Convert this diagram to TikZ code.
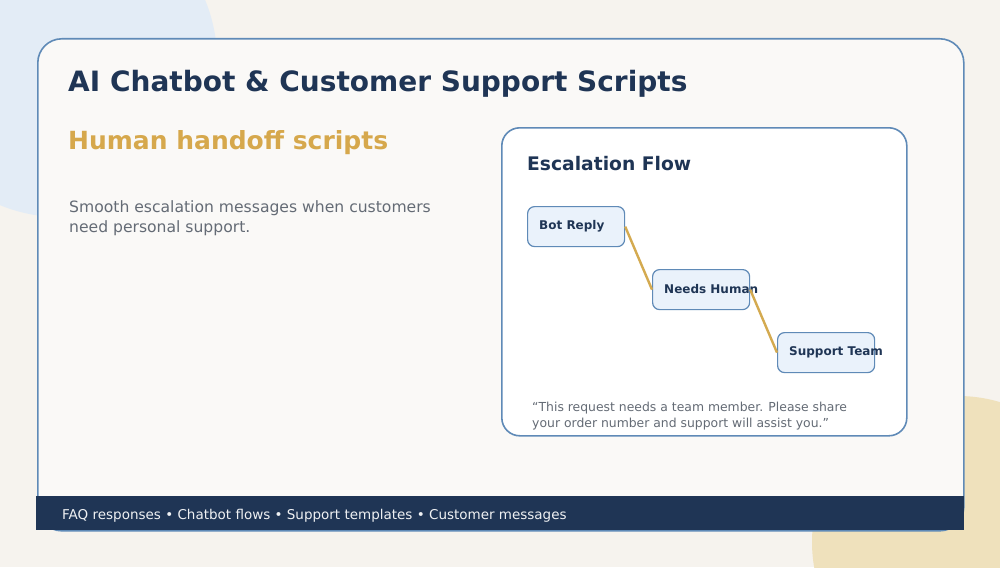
\documentclass[tikz,border=0pt]{standalone}
\usepackage{fontspec}
\setmainfont{DejaVu Sans}
\definecolor{bgc}{HTML}{F6F3EE}
\definecolor{blobblue}{HTML}{E3ECF6}
\definecolor{blobtan}{HTML}{EFE1BC}
\definecolor{navy}{HTML}{1F3555}
\definecolor{cardborder}{HTML}{5F8AB7}
\definecolor{cardfill}{HTML}{FAF9F7}
\definecolor{gold}{HTML}{D6A84C}
\definecolor{bodygray}{HTML}{646B75}
\definecolor{boxfill}{HTML}{EAF2FB}
\definecolor{linegold}{HTML}{D4AA50}
\tikzset{
  flowbox/.style={draw=cardborder, line width=1.2pt, fill=boxfill, rounded corners=7pt,
    minimum width=97pt, minimum height=40pt, inner sep=0pt},
  flowtext/.style={anchor=west, inner sep=0pt, text=navy, font=\fontsize{12}{14}\selectfont\bfseries},
  flowlink/.style={draw=linegold, line width=2.4pt},
}
\begin{document}
\begin{tikzpicture}[x=1pt,y=-1pt]
\useasboundingbox (0,0) rectangle (1000,567);
\fill[bgc] (0,0) rectangle (1000,567);
\begin{scope}
\clip (0,0) rectangle (1000,567);
\fill[blobblue] (60,60) circle[radius=157pt];
\fill[blobtan] (958,542) circle[radius=146pt];
\end{scope}
% main card
\node (card) [draw=cardborder, line width=1.6pt, fill=cardfill, rounded corners=24pt,
  minimum width=926pt, minimum height=492pt, anchor=north west, inner sep=0pt] at (37,38) {};
\node (footer) [fill=navy, minimum width=927.6pt, minimum height=34pt, anchor=north west, inner sep=0pt] at (36.2,496) {};
\node (foottext) [anchor=west, inner sep=0pt, text=white!93!navy, font=\fontsize{13.5}{16}\selectfont] at (62,516)
  {FAQ responses • Chatbot flows • Support templates • Customer messages};
% title
\node (title) [anchor=west, inner sep=0pt, text=navy, font=\fontsize{28}{34}\selectfont\bfseries] at (68,83.5)
  {AI Chatbot \& Customer Support Scripts};
\node (subtitle) [anchor=west, inner sep=0pt, text=gold, font=\fontsize{25}{30}\selectfont\bfseries] at (68,142.5)
  {Human handoff scripts};
\node (body) [anchor=north west, inner sep=0pt, text=bodygray, align=left, font=\fontsize{15.6}{20}\selectfont] at (69,200)
  {Smooth escalation messages when customers\\need personal support.};
% flow card
\node (flowcard) [draw=cardborder, line width=1.6pt, fill=white, rounded corners=18pt,
  minimum width=405pt, minimum height=308pt, anchor=north west, inner sep=0pt] at (501,127) {};
\node (flowtitle) [anchor=west, inner sep=0pt, text=navy, font=\fontsize{18.7}{23}\selectfont\bfseries] at (527,164)
  {Escalation Flow};
\node (bot) [flowbox, anchor=north west] at (527,206) {};
\node (need) [flowbox, anchor=north west] at (652,269) {};
\node (team) [flowbox, anchor=north west] at (777,332) {};
\node (bott) [flowtext] at ([xshift=12pt]bot.west) {Bot Reply};
\node (needt) [flowtext] at ([xshift=12pt,yshift=1pt]need.west) {Needs Human};
\node (teamt) [flowtext] at ([xshift=12pt]team.west) {Support Team};
\draw[flowlink] (bot.east) -- (need.west);
\draw[flowlink] (need.east) -- (team.west);
\node (quote) [anchor=north west, inner sep=0pt, text=bodygray, align=left, font=\fontsize{12.4}{16}\selectfont] at (532,402)
  {“This request needs a team member. Please share\\your order number and support will assist you.”};
\end{tikzpicture}
\end{document}
